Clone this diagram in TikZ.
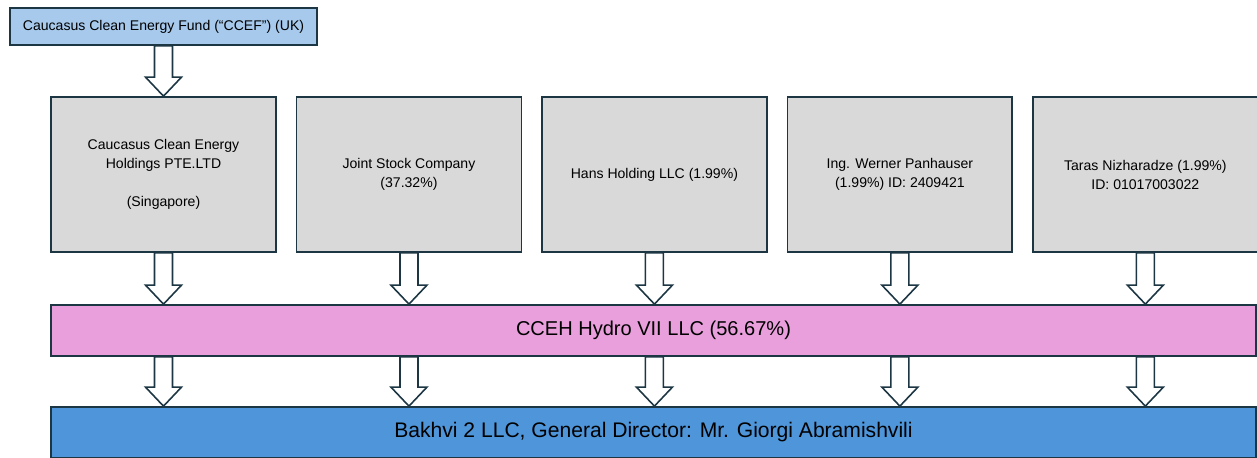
\documentclass[tikz,border=0pt]{standalone}
\usepackage{fontspec}
\setmainfont{Liberation Sans}
\usepackage{tikz}
\usetikzlibrary{calc,positioning}

\definecolor{edgeblue}{HTML}{1D3644}
\definecolor{fundblue}{HTML}{A6C9EC}
\definecolor{holdgray}{HTML}{D9D9D9}
\definecolor{hydropink}{HTML}{E89FDC}
\definecolor{bakhviblue}{HTML}{4E95D9}

\newcommand{\blockarrow}[2]{%
  \draw[blockline] ($(#1)+(-9,0)$) -- ($(#2)+(-9,-19)$) -- ($(#2)+(-18,-19)$)
    -- (#2) -- ($(#2)+(18,-19)$) -- ($(#2)+(9,-19)$) -- ($(#1)+(9,0)$) -- cycle;}

\begin{document}
\begin{tikzpicture}[x=0.02cm,y=-0.02cm]
    \tikzset{
        box/.style = {draw=edgeblue, line width=1pt, inner sep=0pt, align=center},
        fundbox/.style = {box, fill=fundblue, minimum width=6.14cm, minimum height=0.74cm,
            font=\fontsize{8}{10.8}\selectfont},
        holdbox/.style = {box, fill=holdgray, minimum width=4.5cm, minimum height=3.1cm,
            font=\fontsize{8}{10.8}\selectfont},
        bandbox/.style = {box, minimum width=24.1cm, minimum height=1.02cm},
        blockline/.style = {draw=edgeblue, line width=0.9pt, fill=white, line join=miter}
    }
    \useasboundingbox (0,0) rectangle (1257,457);
    \node[fundbox] (ccef) at (163.5,26.5) {Caucasus Clean Energy Fund (“CCEF”) (UK)};
    \node[holdbox] (g1) at (163.5,174.5) {Caucasus Clean Energy\\Holdings PTE.LTD\\[10.8pt](Singapore)};
    \node[holdbox, right=0.375cm of g1] (g2) {Joint Stock Company\\(37.32\%)};
    \node[holdbox, right=0.375cm of g2] (g3) {Hans Holding LLC (1.99\%)};
    \node[holdbox, right=0.375cm of g3] (g4) {Ing. Werner Panhauser\\(1.99\%) ID: 2409421};
    \node[holdbox, right=0.375cm of g4] (g5) {Taras Nizharadze (1.99\%)\\ID: 01017003022};
    \node[bandbox, fill=hydropink, font=\fontsize{11.4}{13}\selectfont] (hydro) at (653.5,330.5)
        {CCEH Hydro VII LLC (56.67\%)};
    \node[bandbox, fill=bakhviblue, font=\fontsize{12}{14}\selectfont] (bakhvi) at (653.5,432.5)
        {Bakhvi 2 LLC, General Director: Mr. Giorgi Abramishvili};
    \blockarrow{ccef.south}{g1.north}
    \foreach \g in {g1,g2,g3,g4,g5} {
        \blockarrow{\g.south}{\g.south |- hydro.north}
        \blockarrow{\g.south |- hydro.south}{\g.south |- bakhvi.north}
    }
\end{tikzpicture}
\end{document}
